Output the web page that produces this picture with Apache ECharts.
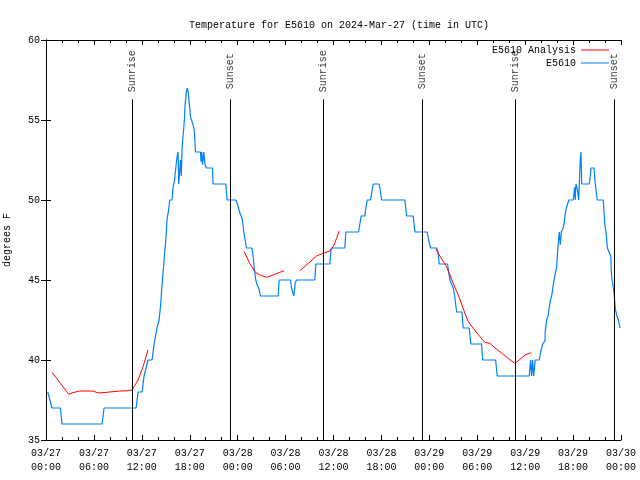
<!DOCTYPE html>
<html>
<head>
<meta charset="utf-8">
<script src="https://cdn.jsdelivr.net/npm/echarts@6/dist/echarts.min.js"></script>
<style>html,body{margin:0;padding:0;background:#fff}#c{width:640px;height:480px}</style>
</head>
<body>
<div id="c"></div>
<script>
// hours since 2024-03-27 00:00 UTC
const tickLabels = ['03/27\n00:00','03/27\n06:00','03/27\n12:00','03/27\n18:00','03/28\n00:00','03/28\n06:00','03/28\n12:00','03/28\n18:00','03/29\n00:00','03/29\n06:00','03/29\n12:00','03/29\n18:00','03/30\n00:00'];

const blueHours = [0.21,0.5,0.75,1.8,2.0,7.02,7.27,11.28,11.53,12.03,12.28,12.53,12.78,13.28,13.53,13.78,13.9,14.16,14.33,14.5,14.66,14.83,15.0,15.16,15.33,15.5,15.79,15.91,16.09,16.25,16.41,16.54,16.62,16.75,16.84,16.94,17.04,17.16,17.25,17.34,17.41,17.58,17.71,17.83,17.97,18.09,18.22,18.38,18.47,18.59,18.72,19.34,19.42,19.5,19.6,19.76,19.92,20.09,20.85,20.92,22.51,22.68,23.77,23.93,24.1,24.27,24.43,24.6,24.77,24.93,25.1,25.77,25.93,26.1,26.27,26.44,26.69,26.86,29.07,29.19,30.62,30.74,31.03,31.2,31.37,33.66,33.79,35.54,35.71,37.42,37.55,39.14,39.3,39.46,39.93,40.05,40.22,40.64,40.8,40.97,41.72,41.89,42.02,44.94,45.15,45.98,46.19,47.73,47.91,48.16,48.91,49.07,49.24,50.29,50.41,50.58,50.83,50.99,51.17,51.42,52.08,52.24,52.99,53.2,54.54,54.67,56.3,56.5,60.51,60.68,60.81,60.93,61.06,61.26,61.76,61.94,62.19,62.48,62.51,62.69,62.85,63.02,63.19,63.32,63.52,63.73,63.94,64.11,64.27,64.4,64.52,64.73,64.86,65.07,65.27,65.49,66.02,66.2,66.27,66.36,66.53,66.7,66.82,66.9,66.99,67.08,67.28,68.03,68.15,68.24,68.62,68.78,69.03,69.78,69.96,70.12,70.29,70.54,70.72,70.79,70.88,71.05,71.16,71.29,71.46,71.67,71.88];
const blueTemps = [38,37.5,37,37,36,36,37,37,38,38,39,39,40,40,41,41,42,42.5,43.3,44.5,45.5,46.5,47.5,48.8,49.3,50,50,50.8,51.2,52,52.7,53,51,51,52.5,51.5,53.3,54,54.5,55.1,55.9,56.8,57,56.6,55.9,55.2,55,55,54.6,54.2,53,53,52.4,53,52.2,53,52.2,52,52,51,51,50,50,49.8,49.5,49.2,49,48.75,48,47.5,47,47,46.5,45.6,45,44.7,44.4,44,44,45,45,44.5,44,44.8,45,45,46,46,47,47,48,48,48.5,49,49,49.5,50,50,50.5,51,51,50.5,50,50,49,49,48,48,47.5,47,47,46.8,46,46,45.5,45,45,44.5,44,43,43,42,42,41,41,40,40,39,39,40,39,40,39,40,40,40.5,41,41.2,41.8,42.5,42.7,43.3,43.8,44,44.7,45.3,45.8,47.1,48,47.2,48,48.2,48.5,49.3,49.7,50,50,50.8,50,51,50.7,50,51.5,52.5,53,51,51,51,51.5,52,52,51,50,50,48.5,48,47,47,46.5,45.5,45,44.5,44,43.2,42.8,42.5,42];

const redHours = [0.75,1.8,2.84,3.38,4.22,5.89,6.51,7.14,7.27,9.23,10.27,10.77,11.11,11.53,12.15,12.78,18,24.81,25.52,26.15,26.77,27.61,28.44,29.28,29.82,30.8,31.79,32.62,33.88,34.7,35.54,35.96,36.38,36.71,42,48.82,49.32,50.16,50.99,51.83,52.46,52.87,53.5,54.34,54.96,55.59,56.43,57.26,58.1,58.72,59.35,59.97,60.72];
const redTemps = [39.23,38.55,37.86,37.96,38.06,38.06,37.94,37.96,38.0,38.06,38.08,38.13,38.4,38.75,39.58,40.63,null,46.77,46.04,45.52,45.31,45.17,45.31,45.48,45.58,null,45.58,45.94,46.5,46.67,46.81,47.08,47.6,48.06,null,46.94,46.5,45.83,44.79,43.8,42.92,42.4,41.98,41.46,41.1,41.04,40.67,40.35,40.0,39.79,40.04,40.31,40.46];

const sunHours = [10.78,23.08,34.71,47.11,58.76,71.16];
const sunNames = ['Sunrise','Sunset','Sunrise','Sunset','Sunrise','Sunset'];

const F = 'Liberation Mono';
const txt = {fontFamily:F, fontSize:10, color:'#000'};
const lineTop = 56.29, labelY = 58.05;

const chart = echarts.init(document.getElementById('c'), null, {renderer:'canvas'});
const axLine = {show:true, lineStyle:{color:'#000', width:1}};
chart.setOption({
  animation:false,
  backgroundColor:'#fff',
  title:{text:'Temperature for E5610 on 2024-Mar-27 (time in UTC)', left:334, textAlign:'center', top:14,
    textStyle:Object.assign({fontWeight:'normal', lineHeight:12}, txt)},
  grid:{left:46, right:19, top:40, bottom:40, containLabel:false, outerBoundsMode:'none'},
  legend:{data:['E5610 Analysis','E5610'], orient:'vertical', right:31, top:44, align:'right',
    icon:'rect', itemWidth:28, itemHeight:1, itemGap:1, padding:0,
    textStyle:Object.assign({lineHeight:12}, txt)},
  xAxis:[
    {type:'value', min:0, max:72, interval:6, position:'bottom', axisLine:axLine,
     axisTick:{show:true, inside:true, length:5, lineStyle:{color:'#000'}},
     minorTick:{show:true, splitNumber:3, length:3, lineStyle:{color:'#000'}},
     axisLabel:Object.assign({margin:6, lineHeight:14, formatter:v => tickLabels[Math.round(v/6)]}, txt),
     splitLine:{show:false}},
    {type:'value', min:0, max:72, interval:6, position:'top', axisLine:axLine,
     axisTick:{show:true, inside:true, length:5, lineStyle:{color:'#000'}},
     minorTick:{show:true, splitNumber:3, length:3, lineStyle:{color:'#000'}},
     axisLabel:{show:false}, splitLine:{show:false}}
  ],
  yAxis:[
    {type:'value', min:35, max:60, interval:5, position:'left', axisLine:axLine,
     name:'degrees F', nameLocation:'middle', nameGap:34, nameTextStyle:txt,
     axisTick:{show:true, inside:true, length:5, lineStyle:{color:'#000'}},
     axisLabel:Object.assign({margin:6}, txt), splitLine:{show:false}},
    {type:'value', min:35, max:60, interval:5, position:'right', axisLine:axLine,
     axisTick:{show:true, inside:true, length:5, lineStyle:{color:'#000'}},
     axisLabel:{show:false}, splitLine:{show:false}}
  ],
  series:[
    {name:'E5610', type:'line', symbol:'none', color:'#0080ff',
     lineStyle:{color:'#0080ff', width:1.2},
     data:blueHours.map((h,i)=>[h, blueTemps[i]])},
    {name:'E5610 Analysis', type:'line', symbol:'none', color:'#ff0000', connectNulls:false,
     lineStyle:{color:'#ff0000', width:1},
     data:redHours.map((h,i)=>[h, redTemps[i]===null ? '-' : redTemps[i]])},
    {name:'sun', type:'scatter', symbolSize:0, silent:true,
     label:Object.assign({show:true, position:'inside', rotate:90, formatter:'{b}'}, txt),
     data:sunHours.map((h,i)=>({name:sunNames[i], value:[h, labelY]})),
     markLine:{silent:true, symbol:['none','none'], label:{show:false},
       lineStyle:{color:'#000', width:1, type:'solid'},
       data:sunHours.map(h=>[{coord:[h,35]},{coord:[h,lineTop]}])}}
  ]
});
</script>
</body>
</html>
